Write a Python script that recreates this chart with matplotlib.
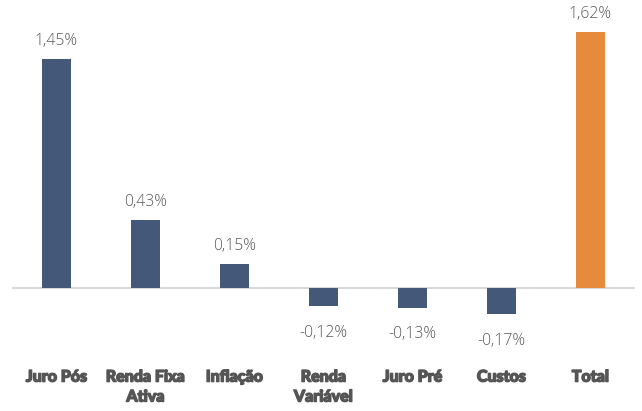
import matplotlib.pyplot as plt
import matplotlib.patheffects as pe

# dados de atribuição de performance
categorias = ['Juro Pós', 'Renda Fixa\nAtiva', 'Inflação', 'Renda\nVariável', 'Juro Pré', 'Custos', 'Total']
valores = [1.45, 0.43, 0.15, -0.12, -0.13, -0.17, 1.62]
cores = ['#44597a'] * 6 + ['#e68a3b']

fig = plt.figure(figsize=(6.42, 4.11), dpi=100)
ax = fig.add_axes([12 / 642, 91 / 411, 623 / 642, 300 / 411])

x = list(range(len(categorias)))
ax.bar(x, valores, width=0.33, color=cores, zorder=2)
ax.axhline(0, color='#d9d9d9', lw=1.5, zorder=1)

ax.set_xlim(-0.5, 6.5)
ax.set_ylim(-0.206, 1.697)

# rótulos de valor
for i, v in zip(x, valores):
    txt = f'{v:.2f}%'.replace('.', ',')
    dy = 13 if v >= 0 else -19
    ax.annotate(txt, (i, v), xytext=(0, dy), textcoords='offset points',
                ha='center', va='center', fontsize=11.3, color='#595959',
                family='Open Sans', fontweight='light')

ax.set_xticks(x)
ax.set_xticklabels(categorias, fontsize=11.5, fontweight='black', family='Lato',
                   color='#555555', linespacing=1.3)
for lbl in ax.get_xticklabels():
    lbl.set_path_effects([pe.withStroke(linewidth=1.0, foreground='#555555')])
ax.tick_params(axis='x', length=0, pad=35)
ax.set_yticks([])
for s in ax.spines.values():
    s.set_visible(False)

fig.savefig('out.png', dpi=100)
